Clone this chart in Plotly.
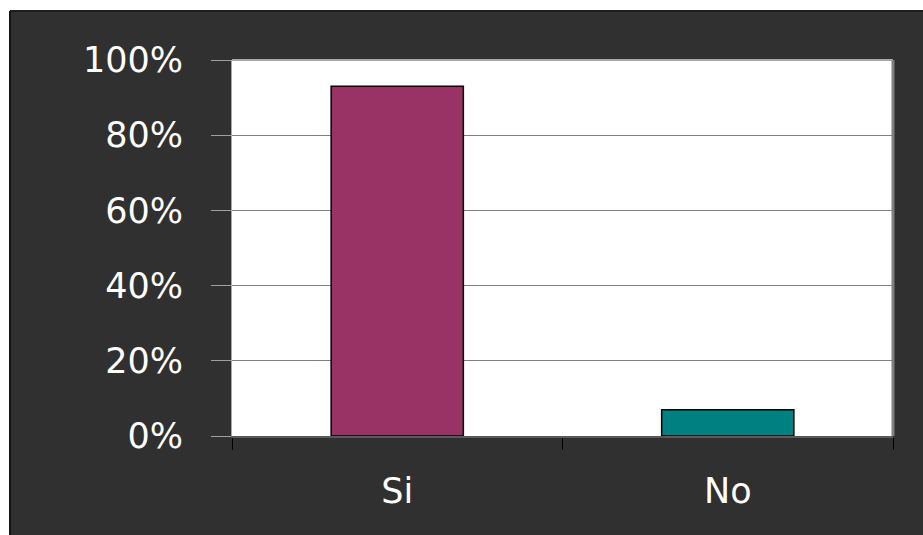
import plotly.graph_objects as go

categories = ["Si", "No"]
values = [0.93, 0.07]
bar_colors = ["#993366", "#008080"]
y_ticks = [0, 0.2, 0.4, 0.6, 0.8, 1.0]
y_tick_labels = ["0%", "20%", "40%", "60%", "80%", "100%"]

fig = go.Figure()
fig.add_trace(go.Bar(
    x=categories, y=values,
    marker=dict(color=bar_colors, line=dict(color="#000000", width=1.5)),
    width=0.4,
))

L, R, T, B = 232, 30, 60, 99
W, H = 923, 535
pw, ph = W - L - R, H - T - B

def px_x(p):
    return (p - L) / pw

def px_y(p):
    return (H - B - p) / ph

FONT = "DejaVu Sans, Liberation Sans, Arial, sans-serif"

fig.update_layout(
    width=W, height=H,
    margin=dict(l=L, r=R, t=T, b=B, pad=0),
    paper_bgcolor="#303030",
    plot_bgcolor="#ffffff",
    showlegend=False,
    font=dict(family=FONT, color="#ffffff", size=35),
    shapes=[
        dict(type="rect", xref="paper", yref="paper", x0=px_x(-5), x1=px_x(10), y0=px_y(H + 5), y1=px_y(-5),
             fillcolor="#ffffff", line=dict(width=0), layer="above"),
        dict(type="rect", xref="paper", yref="paper", x0=px_x(-5), x1=px_x(W + 5), y0=px_y(11), y1=px_y(-5),
             fillcolor="#ffffff", line=dict(width=0), layer="above"),
        dict(type="line", xref="paper", yref="paper", x0=px_x(10), x1=px_x(10), y0=px_y(H + 5), y1=px_y(11),
             line=dict(color="#141414", width=2), layer="above"),
        dict(type="line", xref="paper", yref="paper", x0=px_x(10), x1=px_x(W + 5), y0=px_y(11), y1=px_y(11),
             line=dict(color="#1e1e1e", width=2), layer="above"),
        dict(type="line", xref="paper", yref="paper", x0=0, x1=1, y0=1, y1=1,
             line=dict(color="#a8a8a8", width=2), layer="above"),
        dict(type="line", xref="paper", yref="paper", x0=1, x1=1, y0=0, y1=1,
             line=dict(color="#808080", width=3), layer="above"),
    ],
)

fig.update_yaxes(
    range=[0, 1], tickvals=y_ticks, ticktext=y_tick_labels,
    showgrid=True, gridcolor="#808080", gridwidth=1,
    ticks="outside", ticklen=20, tickcolor="#a0a0a0", tickwidth=1,
    showline=True, linecolor="#a8a8a8", linewidth=1, mirror=False,
    zeroline=False, ticklabelstandoff=21,
    tickfont=dict(family=FONT, size=35, color="#ffffff"),
)
fig.update_xaxes(
    ticks="outside", ticklen=12, tickcolor="#000000", tickwidth=1,
    tickson="boundaries",
    showline=True, linecolor="#5a5a5a", linewidth=2, mirror=False,
    showgrid=False, ticklabelstandoff=23,
    tickfont=dict(family=FONT, size=35, color="#ffffff"),
)

fig.write_html("out.html", config={"displayModeBar": False},
               post_script="document.body.style.margin='0px';")
